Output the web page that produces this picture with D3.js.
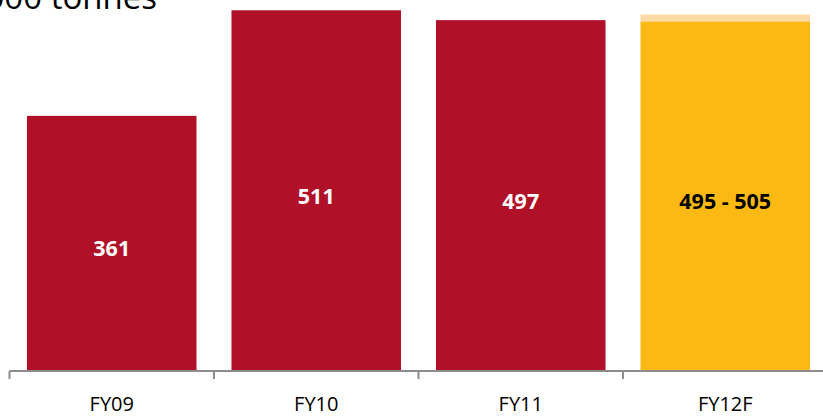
<!DOCTYPE html>
<html>
<head>
<meta charset="utf-8">
<script src="https://cdn.jsdelivr.net/npm/d3@7"></script>
<style>
  html, body { margin: 0; padding: 0; background: #fff; }
  svg { display: block; }
</style>
</head>
<body>
<svg id="chart" width="823" height="416"></svg>
<script>
// Production volumes, '000 tonnes
const categories = ["FY09", "FY10", "FY11", "FY12F"];
const valuesLow  = [361, 511, 497, 495];
const valuesHigh = [361, 511, 497, 505];
const valueLabels = ["361", "511", "497", "495 - 505"];
const unitLabel = "'000 tonnes";

const W = 823, H = 416;
const svg = d3.select("#chart");

const x = d3.scaleBand()
  .domain(categories)
  .range([9.5, 827.5])
  .paddingInner(0.171)
  .paddingOuter(0.0855);

const y = d3.scaleLinear()
  .domain([0, 525.6])
  .range([370, 0]);

const red = "#B01129", amber = "#FDB913", pale = "#FFD9A3";
const isForecast = d => d.endsWith("F");

const data = categories.map((c, i) => ({
  cat: c, low: valuesLow[i], high: valuesHigh[i], label: valueLabels[i]
}));

// range cap for the forecast year
svg.append("g").selectAll("rect")
  .data(data.filter(d => d.high > d.low))
  .join("rect")
  .attr("x", d => x(d.cat))
  .attr("width", x.bandwidth())
  .attr("y", d => y(d.high))
  .attr("height", d => y(d.low) - y(d.high))
  .attr("fill", pale);

// main bars
svg.append("g").selectAll("rect")
  .data(data)
  .join("rect")
  .attr("x", d => x(d.cat))
  .attr("width", x.bandwidth())
  .attr("y", d => y(d.low))
  .attr("height", d => y(0) - y(d.low))
  .attr("fill", d => isForecast(d.cat) ? amber : red);

// value labels
svg.append("g").selectAll("text")
  .data(data)
  .join("text")
  .attr("x", d => x(d.cat) + x.bandwidth() / 2)
  .attr("y", d => (y(d.low) + y(0)) / 2 + 5)
  .attr("text-anchor", "middle")
  .attr("dominant-baseline", "central")
  .attr("font-family", "'Open Sans', sans-serif")
  .attr("font-weight", "bold")
  .attr("font-size", 21.5)
  .attr("fill", d => isForecast(d.cat) ? "#000" : "#fff")
  .text(d => d.label);

// category axis
const axisG = svg.append("g");
axisG.append("line")
  .attr("x1", 9.5).attr("x2", W)
  .attr("y1", 371).attr("y2", 371)
  .attr("stroke", "#8c8c8c").attr("stroke-width", 2);
const bounds = categories.map(c => x(c) - x.step() * x.paddingInner() / 2);
bounds[0] = x.range()[0];
axisG.selectAll("line.tick")
  .data(bounds)
  .join("line")
  .attr("class", "tick")
  .attr("x1", d => d).attr("x2", d => d)
  .attr("y1", 371).attr("y2", 379)
  .attr("stroke", "#8c8c8c").attr("stroke-width", 2);
axisG.selectAll("text")
  .data(categories)
  .join("text")
  .attr("x", d => x(d) + x.bandwidth() / 2)
  .attr("y", 410.5)
  .attr("text-anchor", "middle")
  .attr("font-family", "'Open Sans', sans-serif")
  .attr("font-size", 20)
  .attr("fill", "#000")
  .text(d => d);

// unit title
svg.append("text")
  .attr("x", 157)
  .attr("y", 9)
  .attr("text-anchor", "end")
  .attr("font-family", "'Open Sans', sans-serif")
  .attr("font-size", 33)
  .attr("fill", "#000")
  .text(unitLabel);
</script>
</body>
</html>
